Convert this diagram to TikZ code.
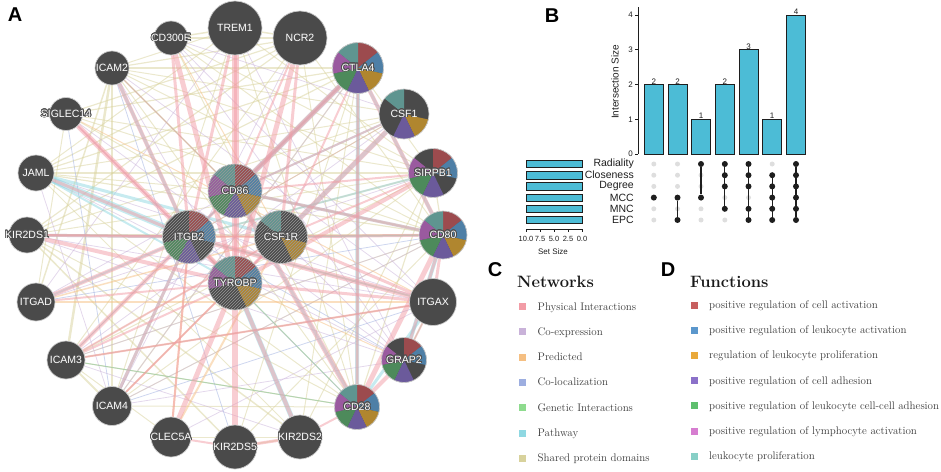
\documentclass[tikz,border=0pt]{standalone}
\usepackage{fontspec}
\usepackage[copies]{contour}
\contourlength{0.75pt}
\contournumber{24}
\newfontfamily\arialf{Liberation Sans}
\usetikzlibrary{patterns}
\pgfdeclarelayer{edges}
\pgfsetlayers{edges,main}
\definecolor{nodegray}{HTML}{4A4A4A}
\definecolor{haloc}{HTML}{505050}
\definecolor{pc1}{HTML}{9C4B4E}
\definecolor{pc2}{HTML}{4E7FA6}
\definecolor{pc3}{HTML}{B0862F}
\definecolor{pc4}{HTML}{6B5A9B}
\definecolor{pc5}{HTML}{4D8A5B}
\definecolor{pc6}{HTML}{9A5A9F}
\definecolor{pc7}{HTML}{5F9590}
\definecolor{fc1}{HTML}{C75F5F}
\definecolor{fc2}{HTML}{5B97CC}
\definecolor{fc3}{HTML}{E9A93A}
\definecolor{fc4}{HTML}{8B71C9}
\definecolor{fc5}{HTML}{5EBF6E}
\definecolor{fc6}{HTML}{D67DD0}
\definecolor{fc7}{HTML}{87CFC6}
\definecolor{nw1}{HTML}{F29CA6}
\definecolor{nw2}{HTML}{C9B2D9}
\definecolor{nw3}{HTML}{F5BF82}
\definecolor{nw4}{HTML}{9DAEE0}
\definecolor{nw5}{HTML}{8EDB8E}
\definecolor{nw6}{HTML}{8FD8E2}
\definecolor{nw7}{HTML}{D8D29C}
\definecolor{barcyan}{HTML}{4CBCD6}
\definecolor{ink}{HTML}{1E1E1E}
\definecolor{legtext}{HTML}{3A3A3A}
\newcommand\myfs[1]{\arialf\fontsize{#1}{#1}\selectfont}
\newcommand\gl[1]{\contour{haloc}{\makebox[0pt]{#1}}}
\begin{document}
\begin{tikzpicture}[x=1pt,y=-1pt,
  gene/.style={circle, fill=nodegray, draw=white!80!black, line width=0.7pt, inner sep=0pt,
    text=white, font=\myfs{10.5}, minimum size=#1},
  segs/.style={path picture={\foreach \s in {#1}{\fill[fill=pc\s] (path picture bounding box.center) -- ++({90-(\s-1)*360/7}:40pt) arc[start angle={90-(\s-1)*360/7}, delta angle=-51.4286, radius=40pt] -- cycle;}}},
  hatch/.style={postaction={pattern=north east lines, pattern color=black!40}},
  net/.style args={#1/#2}{draw=nw#1, line width=#2pt, opacity=0.5},
  plabel/.style={font=\arialf\bfseries\fontsize{20}{20}\selectfont, inner sep=0pt, text=black},
  axln/.style={draw=ink, line width=0.6pt},
  tick/.style={font=\myfs{8}, text=ink, inner sep=0pt},
  ibar/.style={draw=ink, fill=barcyan, line width=0.7pt, minimum width=19pt, inner sep=0pt, outer sep=0pt},
  cnt/.style={font=\myfs{8}, text=ink, inner sep=0.3pt},
  gdot/.style={circle, fill=black!13, minimum size=5pt, inner sep=0pt},
  bdot/.style={circle, fill=ink, minimum size=6pt, inner sep=0pt},
  mline/.style={draw=ink, line width=1.2pt},
  setlbl/.style={font=\myfs{10.5}, text=ink, inner sep=0pt},
  sbar/.style={draw=ink, fill=barcyan, line width=0.7pt, minimum width=56pt, minimum height=7.5pt, inner sep=0pt, outer sep=0pt},
  hdr/.style={font=\bfseries\fontsize{16.5}{18}\selectfont, text=black!90, inner sep=0pt},
  legsq/.style={minimum size=7pt, inner sep=0pt},
  legtxt/.style={font=\fontsize{11}{13}\selectfont, text=legtext, inner sep=0pt}
]
\useasboundingbox (0,0) rectangle (941,471);

% ---------------- Panel A: nodes ----------------
\node[plabel] (lA) at (15,15) {A};
\node[gene=54pt] (TREM1) at (235,28) {\gl{TREM1}};
\node[gene=54pt] (NCR2) at (300,38) {\gl{NCR2}};
\node[gene=34pt] (CD300E) at (171,38) {\gl{CD300E}};
\node[gene=34pt] (ICAM2) at (112,68) {\gl{ICAM2}};
\node[gene=33pt] (SIGLEC14) at (66,114) {\gl{SIGLEC14}};
\node[gene=36pt] (JAML) at (36,173) {\gl{JAML}};
\node[gene=36pt] (KIR2DS1) at (27,235) {\gl{KIR2DS1}};
\node[gene=38pt] (ITGAD) at (36,302) {\gl{ITGAD}};
\node[gene=38pt] (ICAM3) at (66,360) {\gl{ICAM3}};
\node[gene=39pt] (ICAM4) at (112,406) {\gl{ICAM4}};
\node[gene=40pt] (CLEC5A) at (171,437) {\gl{CLEC5A}};
\node[gene=44pt] (KIR2DS5) at (235,447) {\gl{KIR2DS5}};
\node[gene=44pt] (KIR2DS2) at (300,437) {\gl{KIR2DS2}};
\node[gene=45pt, segs={1,2,3,4,5,6,7}] (CD28) at (357,407) {\gl{CD28}};
\node[gene=45pt, segs={1,2,4,5,6}] (GRAP2) at (404,360) {\gl{GRAP2}};
\node[gene=47pt] (ITGAX) at (433,302) {\gl{ITGAX}};
\node[gene=48pt, segs={1,2,3,4,5,6,7}] (CD80) at (443,235) {\gl{CD80}};
\node[gene=49pt, segs={1,2,4,5,6}] (SIRPB1) at (433,173) {\gl{SIRPB1}};
\node[gene=50pt, segs={3,4,7}] (CSF1) at (404,114) {\gl{CSF1}};
\node[gene=51pt, segs={1,2,3,4,5,6,7}] (CTLA4) at (358,68) {\gl{CTLA4}};
\node[gene=54pt, segs={1,2,3,4,5,6,7}, hatch] (CD86) at (235,191) {\gl{CD86}};
\node[gene=53pt, segs={1,2,4,5}, hatch] (ITGB2) at (189,237) {\gl{ITGB2}};
\node[gene=53pt, segs={3,7}, hatch] (CSF1R) at (281,237) {\gl{CSF1R}};
\node[gene=54pt, segs={1,2,3,6,7}, hatch] (TYROBP) at (235,283) {\gl{TYROBP}};

% ---------------- Panel A: edges ----------------
\begin{pgfonlayer}{edges}
% shared protein domains
\foreach \a/\b/\w in {ICAM2/ICAM3/2.5, ICAM2/ICAM4/2.5, ICAM3/ICAM4/2, KIR2DS1/KIR2DS2/1.5, KIR2DS1/KIR2DS5/1.5, KIR2DS5/KIR2DS2/1.5, CTLA4/CD28/1.5, CD80/CD86/1.5, TREM1/NCR2/1.5, CD300E/TREM1/1.5, CD300E/NCR2/1.2, CTLA4/JAML/1.2, CTLA4/SIGLEC14/1.2, CTLA4/ICAM2/1.2, CTLA4/ICAM3/1.2, CTLA4/ICAM4/1.2, CTLA4/KIR2DS1/1.2, NCR2/ICAM2/1.2, NCR2/JAML/1.2, NCR2/SIGLEC14/1.2, NCR2/KIR2DS1/1.2, NCR2/ICAM3/1, TREM1/ICAM4/1, TREM1/JAML/1, CD300E/CD28/1, CD300E/CD80/1, CD300E/SIRPB1/1, ICAM2/CD28/1, ICAM2/CD80/1, ICAM2/SIRPB1/1, SIGLEC14/CD80/1, SIGLEC14/SIRPB1/1, SIGLEC14/CSF1R/1, JAML/SIRPB1/1.2, JAML/CD80/1.2, JAML/CD28/1, JAML/KIR2DS2/1, KIR2DS1/CD80/1.2, KIR2DS1/SIRPB1/1, KIR2DS1/CD28/1, ICAM3/CD80/1, ICAM3/SIRPB1/1, ICAM3/CD28/1, ICAM4/CD80/1, ICAM4/CD28/1, ICAM4/SIRPB1/1, KIR2DS5/CD80/1, KIR2DS2/SIRPB1/1, KIR2DS2/CTLA4/1, KIR2DS5/CTLA4/1, CD28/SIRPB1/1.2, CD86/ICAM2/1, CD86/JAML/1, CSF1R/ICAM3/1, CSF1R/KIR2DS1/1, TREM1/SIRPB1/1, TREM1/CD28/1, NCR2/CD80/1, NCR2/CD28/1, CSF1/JAML/1, CSF1/KIR2DS1/1, CSF1/ICAM2/1, ITGAD/ICAM2/1.5, ITGAD/SIGLEC14/1, CLEC5A/ICAM3/1, CLEC5A/KIR2DS2/1, TREM1/ICAM2/1, SIRPB1/CD80/1.2, SIRPB1/CTLA4/1}
  \draw[net=7/\w] (\a) -- (\b);
% co-expression
\foreach \a/\b in {CD300E/ITGAX, ICAM2/GRAP2, SIGLEC14/CD28, JAML/GRAP2, KIR2DS1/ITGAX, ICAM3/CD80, ICAM4/GRAP2, CLEC5A/ITGAX, CD300E/CSF1, TREM1/ITGAD, NCR2/ICAM4, CTLA4/ICAM4, CSF1/ICAM3, SIRPB1/ITGAD, CD80/ICAM4, GRAP2/KIR2DS1, CD28/ICAM3, ITGAX/JAML, ICAM2/ITGAX, CD300E/GRAP2, TREM1/GRAP2, ITGB2/CD28, TYROBP/ICAM2, CSF1R/ICAM4, CD86/ITGAD, KIR2DS2/ICAM3, SIGLEC14/GRAP2, JAML/ICAM4}
  \draw[net=2/0.8] (\a) -- (\b);
% co-localization
\foreach \a/\b in {ICAM2/CSF1R, ICAM3/ITGAX, ITGAD/CD80, ICAM4/ITGAX, CSF1/ITGB2, ITGB2/GRAP2, CTLA4/ICAM3, ICAM2/KIR2DS5, SIGLEC14/ICAM4}
  \draw[net=4/0.8] (\a) -- (\b);
% predicted
\foreach \a/\b/\w in {ITGAD/ITGAX/2.5, ITGAD/CSF1R/1.5, ICAM3/ITGAX/1.5, ICAM4/TYROBP/1.5, CLEC5A/CSF1R/2, CD300E/CSF1R/1, SIGLEC14/ITGAX/1, ITGB2/ITGAX/1.5, ICAM2/CSF1R/1.2, CSF1/ITGB2/1, GRAP2/TYROBP/1, ITGB2/SIRPB1/1.5, CD80/ITGB2/1.5, CLEC5A/ITGB2/2}
  \draw[net=3/\w] (\a) -- (\b);
% genetic interactions
\foreach \a/\b in {CD28/ICAM3, ITGAX/GRAP2, CD28/ITGB2, CSF1R/CD80}
  \draw[net=5/1] (\a) -- (\b);
% pathway
\foreach \a/\b/\w in {JAML/ITGB2/6, JAML/CSF1R/3, JAML/TYROBP/2, KIR2DS1/ITGB2/3, ICAM2/ITGB2/3, ICAM4/ITGB2/3, ITGAD/ITGB2/2, CTLA4/CD86/5, CTLA4/ITGB2/2, CSF1/CSF1R/4, CSF1/CD86/2, CTLA4/CD28/4, CD80/GRAP2/4, ITGAX/CD28/3, KIR2DS2/TYROBP/5, SIRPB1/ITGB2/2, CD86/CD80/3, CD28/CD86/3, CD80/CTLA4/3, ITGAX/ITGB2/2, CSF1R/CD80/2}
  \draw[net=6/\w] (\a) -- (\b);
% physical interactions
\foreach \a/\b/\w in {TREM1/TYROBP/7, NCR2/TYROBP/5, CD300E/TYROBP/5, SIGLEC14/TYROBP/5, KIR2DS1/TYROBP/4, KIR2DS5/TYROBP/6, KIR2DS2/TYROBP/4, CLEC5A/TYROBP/5, SIRPB1/TYROBP/4, CSF1R/TYROBP/3, ITGB2/TYROBP/3, CD86/TYROBP/3, TREM1/CD86/3, TREM1/ITGB2/3, CD300E/ITGB2/3, CTLA4/CD86/5, CTLA4/CD80/4, CD28/CD86/5, CD28/CD80/5, CD28/GRAP2/4, CD28/CTLA4/3, CSF1/CSF1R/5, ITGB2/ICAM2/4, ITGB2/ICAM3/4, ITGB2/ICAM4/3, ITGB2/ITGAD/4, ITGB2/ITGAX/5, ITGB2/JAML/3, KIR2DS1/ITGB2/3, SIGLEC14/ITGB2/2, NCR2/CSF1R/3, CTLA4/ITGB2/3, CD80/ITGAX/3, CD80/CSF1R/3, SIRPB1/CD86/2, ICAM3/ITGAX/2, ICAM4/CSF1R/2, KIR2DS5/KIR2DS2/3, CLEC5A/KIR2DS5/2, CD28/KIR2DS2/2, GRAP2/CD80/3, GRAP2/ITGAX/2, ITGAX/CSF1R/3, ITGAX/TYROBP/3, ITGAD/TYROBP/2, ICAM3/TYROBP/2, NCR2/CD86/2, CSF1/CD86/2, CTLA4/CSF1R/2, CD80/CD86/3, SIRPB1/CSF1R/2, CLEC5A/ITGB2/2, KIR2DS1/CSF1R/2, ICAM3/CSF1R/2}
  \draw[net=1/\w] (\a) -- (\b);
\end{pgfonlayer}

% ---------------- Panel B ----------------
\node[plabel] (lB) at (552,16) {B};
\draw[axln] (638,7) -- (638,154);
\foreach \v in {0,...,4} {
  \draw[axln] (635,{154-34.75*\v}) -- (638,{154-34.75*\v});
  \node[tick, anchor=east] (yt\v) at (633,{154-34.75*\v}) {\v};
}
\node[font=\myfs{10}, text=ink, rotate=90, inner sep=0pt] (ylab) at (615,82) {Intersection Size};
\foreach \x/\h [count=\i] in {653.8/2,677.5/2,701/1,724.8/2,748.5/3,772.2/1,796/4} {
  \node[ibar, minimum height={\h*34.75pt}, anchor=south] (bar\i) at (\x,154) {};
  \node[cnt, anchor=south] (cnt\i) at (bar\i.north) {\h};
}
\foreach \r/\ry/\lab in {1/164/Radiality,2/175.2/Closeness,3/186.4/Degree,4/197.6/MCC,5/208.8/MNC,6/220/EPC} {
  \node[setlbl, anchor=east] (s\r) at (634,\ry) {\lab};
  \node[sbar, anchor=east] (sb\r) at (582,\ry) {};
  \foreach \x [count=\c] in {653.8,677.5,701,724.8,748.5,772.2,796}
    \node[gdot] (g\c-\r) at (\x,\ry) {};
}
\node[bdot] (d1-4) at (g1-4) {};
\foreach \c/\mem/\top/\bot in {2/{4,6}/4/6, 3/{1,4}/1/4, 4/{1,2,3,5}/1/5, 5/{1,2,3,5,6}/1/6, 6/{2,3,4,5,6}/2/6, 7/{1,2,3,4,5,6}/1/6} {
  \foreach \r in \mem { \node[bdot] (d\c-\r) at (g\c-\r) {}; }
  \draw[mline] (d\c-\top) -- (d\c-\bot);
}
\draw[axln] (526,229) -- (582,229);
\foreach \t/\lab [count=\k] in {526/10.0,540/7.5,554/5.0,568/2.5,582/0.0} {
  \draw[axln] (\t,229) -- (\t,232);
  \node[tick, font=\myfs{7.5}] (st\k) at (\t,239) {\lab};
}
\node[tick] (sslab) at (553,252) {Set Size};

% ---------------- Panel C ----------------
\node[plabel] (lC) at (495,270) {C};
\node[hdr, anchor=base west] (nethdr) at (517,287) {Networks};
\foreach \t [count=\k] in {Physical Interactions, Co-expression, Predicted, Co-localization, Genetic Interactions, Pathway, Shared protein domains} {
  \node[legsq, fill=nw\k] (cs\k) at (522,{306.5+25.3*(\k-1)}) {};
  \node[legtxt, anchor=base west] (ct\k) at (537.5,{310+25.3*(\k-1)}) {\t};
}

% ---------------- Panel D ----------------
\node[plabel] (lD) at (668,270) {D};
\node[hdr, anchor=base west] (funhdr) at (690,287) {Functions};
\foreach \t [count=\k] in {positive regulation of cell activation, positive regulation of leukocyte activation, regulation of leukocyte proliferation, positive regulation of cell adhesion, positive regulation of leukocyte cell-cell adhesion, positive regulation of lymphocyte activation, leukocyte proliferation} {
  \node[legsq, fill=fc\k] (fs\k) at (694,{305+25.2*(\k-1)}) {};
  \node[legtxt, anchor=base west] (ft\k) at (709,{308.5+25.2*(\k-1)}) {\t};
}
\end{tikzpicture}
\end{document}
